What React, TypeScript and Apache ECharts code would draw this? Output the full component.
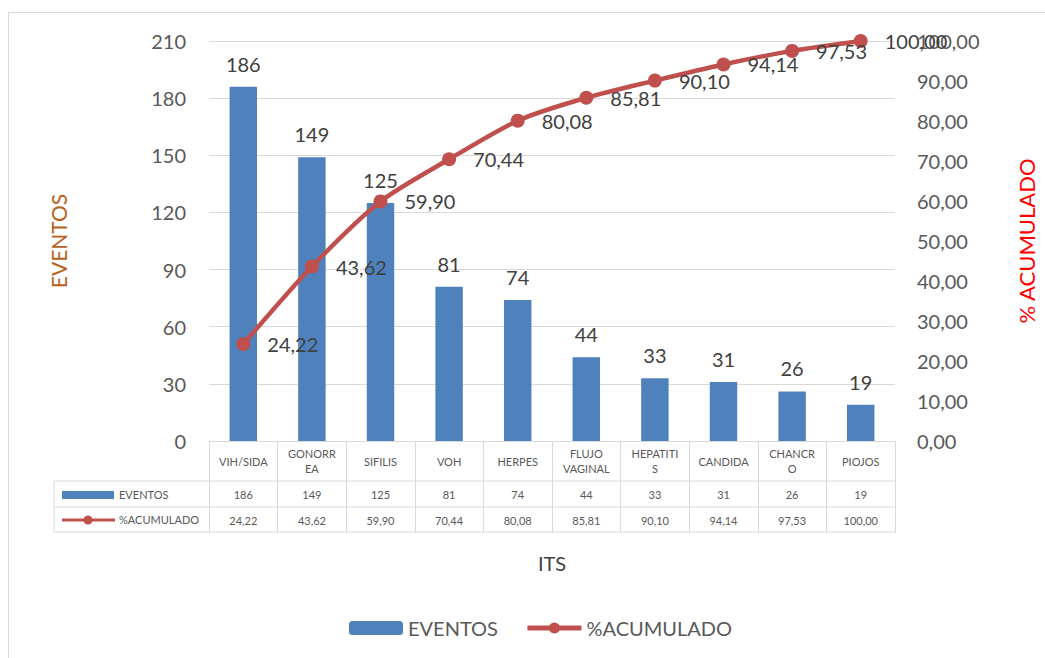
import React, { useEffect, useRef } from "react";
import * as echarts from "echarts";

// Infecciones de transmisión sexual: eventos y porcentaje acumulado (Pareto)
const categories = ["VIH/SIDA", "GONORREA", "SIFILIS", "VOH", "HERPES", "FLUJO VAGINAL", "HEPATITIS", "CANDIDA", "CHANCRO", "PIOJOS"];
const headerLabels = ["VIH/SIDA", "GONORR\nEA", "SIFILIS", "VOH", "HERPES", "FLUJO\nVAGINAL", "HEPATITI\nS", "CANDIDA", "CHANCR\nO", "PIOJOS"];
const eventos = [186, 149, 125, 81, 74, 44, 33, 31, 26, 19];
const acumulado = [24.22, 43.62, 59.9, 70.44, 80.08, 85.81, 90.1, 94.14, 97.53, 100.0];

const FONT = "Lato, 'Open Sans', sans-serif";
const BLUE = "#4F81BD";
const RED = "#C0504D";
const GRID = "#D9D9D9";
const TXT = "#595959";

const fmt = (v: number) => v.toFixed(2).replace(".", ",");

export default function App() {
  const ref = useRef<HTMLDivElement>(null);

  useEffect(() => {
    if (!ref.current) return;
    const chart = echarts.init(ref.current, null, { renderer: "svg" });

    const tableLeft = 54;
    const plotLeft = 209;
    const plotRight = 896;
    const rowA = 481;
    const rowB = 507;
    const rowC = 532;

    const tableRow = (offset: number, values: string[]) => ({
      type: "category",
      data: categories,
      gridIndex: 0,
      position: "bottom",
      offset,
      axisLine: { show: false },
      axisTick: { show: false },
      splitLine: { show: false },
      axisLabel: {
        interval: 0,
        margin: 13,
        verticalAlign: "middle",
        color: TXT,
        fontSize: 11,
        fontFamily: FONT,
        formatter: (_: string, i: number) => values[i],
      },
    });

    chart.setOption({
      animation: false,
      backgroundColor: "#ffffff",
      textStyle: { fontFamily: FONT },
      grid: { left: plotLeft, right: 1045 - plotRight, top: 41, bottom: 658 - 441 },
      legend: {
        left: 344,
        top: 613,
        itemWidth: 54,
        itemHeight: 14,
        itemGap: 27,
        textStyle: { color: TXT, fontSize: 20, fontFamily: FONT },
        data: [
          { name: "EVENTOS" },
          { name: "%ACUMULADO", lineStyle: { width: 5 } },
        ],
      },
      xAxis: [
        {
          type: "category",
          data: categories,
          name: "ITS",
          nameLocation: "middle",
          nameGap: 112,
          nameTextStyle: { color: "#404040", fontSize: 20, fontFamily: FONT },
          axisLine: { show: true, lineStyle: { color: GRID, width: 1 } },
          axisTick: { show: true, length: rowC - 441, lineStyle: { color: GRID, width: 1 } },
          axisLabel: {
            interval: 0,
            margin: 20,
            verticalAlign: "middle",
            lineHeight: 15,
            color: TXT,
            fontSize: 11,
            fontFamily: FONT,
            formatter: (_: string, i: number) => headerLabels[i],
          },
        },
        tableRow(rowA - 441, eventos.map(String)),
        tableRow(rowB - 441, acumulado.map(fmt)),
      ],
      yAxis: [
        {
          type: "value",
          min: 0,
          max: 210,
          interval: 30,
          name: "EVENTOS",
          nameLocation: "middle",
          nameGap: 140,
          nameRotate: 90,
          nameTextStyle: { color: "#B8601C", fontSize: 21, fontFamily: FONT },
          axisLine: { show: false },
          axisTick: { show: false },
          axisLabel: { color: TXT, fontSize: 20, margin: 23, fontFamily: FONT },
          splitLine: { lineStyle: { color: GRID, width: 1 } },
        },
        {
          type: "value",
          min: 0,
          max: 100,
          interval: 10,
          position: "right",
          name: "% ACUMULADO",
          nameLocation: "middle",
          nameGap: 120,
          nameRotate: 90,
          nameTextStyle: { color: "#FF0000", fontSize: 22, fontFamily: FONT },
          axisLine: { show: false },
          axisTick: { show: false },
          axisLabel: { color: TXT, fontSize: 20, margin: 22, fontFamily: FONT, formatter: (v: number) => fmt(v) },
          splitLine: { show: false },
        },
      ],
      series: [
        {
          name: "EVENTOS",
          type: "bar",
          data: eventos,
          barWidth: "40%",
          itemStyle: { color: BLUE },
          label: { show: true, position: "top", distance: 13, color: "#404040", fontSize: 20, fontFamily: FONT },
          z: 2,
        },
        {
          name: "%ACUMULADO",
          type: "line",
          yAxisIndex: 1,
          data: acumulado,
          smooth: 0.25,
          symbol: "circle",
          symbolSize: 14,
          lineStyle: { color: RED, width: 4.5 },
          itemStyle: { color: RED },
          label: {
            show: true,
            position: "right",
            distance: 17,
            color: "#404040",
            fontSize: 20,
            fontFamily: FONT,
            formatter: (p: any) => fmt(p.value),
          },
          z: 3,
        },
      ],
      graphic: [
        // chart frame
        { type: "rect", shape: { x: 8.5, y: 12.5, width: 1060, height: 680 }, style: { fill: "none", stroke: GRID, lineWidth: 1 }, silent: true },
        // data table horizontal rules and left border
        { type: "line", shape: { x1: tableLeft, y1: rowA, x2: plotRight, y2: rowA }, style: { stroke: GRID, lineWidth: 1 } },
        { type: "line", shape: { x1: tableLeft, y1: rowB, x2: plotRight, y2: rowB }, style: { stroke: GRID, lineWidth: 1 } },
        { type: "line", shape: { x1: tableLeft, y1: rowC, x2: plotRight, y2: rowC }, style: { stroke: GRID, lineWidth: 1 } },
        { type: "line", shape: { x1: tableLeft, y1: rowA, x2: tableLeft, y2: rowC }, style: { stroke: GRID, lineWidth: 1 } },
        // table legend keys
        { type: "rect", shape: { x: 62, y: 491, width: 52, height: 8 }, style: { fill: BLUE } },
        { type: "text", x: 119, y: (rowA + rowB) / 2, style: { text: "EVENTOS", fill: TXT, fontSize: 11, fontFamily: FONT, verticalAlign: "middle" } },
        { type: "line", shape: { x1: 62, y1: 520, x2: 115, y2: 520 }, style: { stroke: RED, lineWidth: 3 } },
        { type: "circle", shape: { cx: 88, cy: 520, r: 4.5 }, style: { fill: RED } },
        { type: "text", x: 119, y: (rowB + rowC) / 2, style: { text: "%ACUMULADO", fill: TXT, fontSize: 11, fontFamily: FONT, verticalAlign: "middle" } },
      ],
    });

    return () => chart.dispose();
  }, []);

  return <div ref={ref} style={{ position: "absolute", left: 0, top: 0, width: 1045, height: 658 }} />;
}
